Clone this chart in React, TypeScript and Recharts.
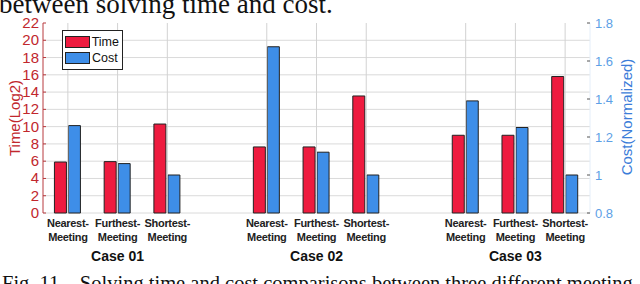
import React from 'react';
import { BarChart, Bar, XAxis, YAxis, CartesianGrid, ReferenceLine, Legend } from 'recharts';

const caseLabels = ['Case 01', 'Case 02', 'Case 03'];
const methodIds = ['n', 'f', 's'];
const methodLine1 = ['Nearest-', 'Furthest-', 'Shortest-'];
const methodLine2 = ['Meeting', 'Meeting', 'Meeting'];
const timeCase1 = [5.9, 5.95, 10.3];
const timeCase2 = [7.65, 7.65, 13.55];
const timeCase3 = [9.0, 9.0, 15.8];
const costCase1 = [1.26, 1.06, 1.0];
const costCase2 = [1.675, 1.12, 1.0];
const costCase3 = [1.39, 1.25, 1.0];
const timeTicks = [0, 2, 4, 6, 8, 10, 12, 14, 16, 18, 20, 22];
const costTicks = [0.8, 1, 1.2, 1.4, 1.6, 1.8];

const timeByCase = [timeCase1, timeCase2, timeCase3];
const costByCase = [costCase1, costCase2, costCase3];

type Row = { id: string; l1: string; l2: string; caseLabel: string; time: number | null; cost: number | null; gap: boolean };
const data: Row[] = [];
caseLabels.forEach((c, ci) => {
  methodIds.forEach((m, mi) => {
    data.push({
      id: `c${ci + 1}${m}`,
      l1: methodLine1[mi],
      l2: methodLine2[mi],
      caseLabel: mi === 1 ? c : '',
      time: timeByCase[ci][mi],
      cost: costByCase[ci][mi],
      gap: false,
    });
  });
  if (ci < caseLabels.length - 1) {
    data.push({ id: `gap${ci + 1}`, l1: '', l2: '', caseLabel: '', time: null, cost: null, gap: true });
  }
});
const realIds = data.filter((d) => !d.gap).map((d) => d.id);
const rowById: Record<string, Row> = {};
data.forEach((d) => (rowById[d.id] = d));

const RED = '#EE1B3F';
const BLUE = '#3E8EE8';
const AXIS_RED = '#B83A3E';
const TEXT_RED = '#C1272D';
const TEXT_BLUE = '#5DA0E6';
const SANS = '"Liberation Sans", Arial, sans-serif';
const NARROW = '"Liberation Sans Narrow", "Arial Narrow", "Liberation Sans", sans-serif';
const SERIF = '"Liberation Serif", "Times New Roman", serif';

const BottomTick = (props: any) => {
  const { x, y, payload } = props;
  const row = rowById[payload.value];
  if (!row || row.gap) return <g />;
  return (
    <g>
      <text x={x} y={y + 14} textAnchor="middle" fontFamily={NARROW} fontWeight="bold" fontSize={11} letterSpacing={-0.3} fill="#222">{row.l1}</text>
      <text x={x} y={y + 28} textAnchor="middle" fontFamily={NARROW} fontWeight="bold" fontSize={11} letterSpacing={-0.3} fill="#222">{row.l2}</text>
      {row.caseLabel ? (
        <text x={x} y={y + 48} textAnchor="middle" fontFamily={SANS} fontWeight="bold" fontSize={14} fill="#111">{row.caseLabel}</text>
      ) : null}
    </g>
  );
};

const TopTick = (props: any) => {
  const { x, y, payload } = props;
  const row = rowById[payload.value];
  if (!row || row.gap) return <g />;
  return <line x1={x} x2={x} y1={y} y2={y + 4} stroke="#333" strokeWidth={1} />;
};

const LeftTick = (props: any) => {
  const { x, y, payload } = props;
  return (
    <g>
      <line x1={x} x2={x + 3} y1={y} y2={y} stroke={AXIS_RED} strokeWidth={1} />
      <text x={x - 4} y={y} dy={5} textAnchor="end" fontFamily={SANS} fontSize={15} fill={TEXT_RED}>{payload.value}</text>
    </g>
  );
};

const RightTick = (props: any) => {
  const { x, y, payload } = props;
  return (
    <g>
      <line x1={x - 3} x2={x} y1={y} y2={y} stroke="#555" strokeWidth={1} />
      <text x={x + 5} y={y} dy={4.5} textAnchor="start" fontFamily={SANS} fontSize={13} fill={TEXT_BLUE}>{String(payload.value)}</text>
    </g>
  );
};

const LegendBox = () => (
  <div style={{ border: '1px solid #222', background: '#fff', padding: '3px 3px 3px 2px', fontFamily: SANS, fontSize: 12.5, color: '#111', lineHeight: '15px', width: 54 }}>
    {[
      { name: 'Time', color: RED },
      { name: 'Cost', color: BLUE },
    ].map((it) => (
      <div key={it.name} style={{ display: 'flex', alignItems: 'center', height: 16 }}>
        <span style={{ display: 'inline-block', width: 23, height: 10, background: it.color, border: '1px solid #222', marginRight: 2 }} />
        <span>{it.name}</span>
      </div>
    ))}
  </div>
);

export default function App() {
  return (
    <div style={{ position: 'absolute', left: 0, top: 0, width: 640, height: 284, overflow: 'hidden', background: '#fff' }}>
      <BarChart
        width={640}
        height={284}
        data={data}
        margin={{ top: 23, right: 0, left: 0, bottom: 0 }}
        barCategoryGap="23%"
        barGap={2}
      >
        <CartesianGrid yAxisId="time" xAxisId="main" vertical={false} stroke="#dadada" horizontalValues={timeTicks.slice(0, -1)} />
        {realIds.map((id) => (
          <ReferenceLine key={id} x={id} xAxisId="main" yAxisId="time" stroke="#d2d2d2" strokeWidth={1} />
        ))}
        <XAxis
          xAxisId="main"
          dataKey="id"
          type="category"
          height={71}
          interval={0}
          axisLine={false}
          tickLine={false}
          tickSize={0}
          tickMargin={0}
          tick={<BottomTick />}
        />
        <XAxis
          xAxisId="top"
          dataKey="id"
          type="category"
          orientation="top"
          height={0}
          interval={0}
          axisLine={{ stroke: '#444', strokeWidth: 1 }}
          tickLine={false}
          tickSize={0}
          tickMargin={0}
          tick={<TopTick />}
        />
        <YAxis
          yAxisId="time"
          orientation="left"
          width={43}
          domain={[0, 22]}
          ticks={timeTicks}
          interval={0}
          axisLine={{ stroke: AXIS_RED, strokeWidth: 1 }}
          tickLine={false}
          tickSize={0}
          tickMargin={0}
          tick={<LeftTick />}
        />
        <YAxis
          yAxisId="cost"
          orientation="right"
          width={50}
          domain={[0.8, 1.8]}
          ticks={costTicks}
          interval={0}
          axisLine={{ stroke: '#e4eef9', strokeWidth: 1 }}
          tickLine={false}
          tickSize={0}
          tickMargin={0}
          tick={<RightTick />}
        />
        <Legend
          layout="horizontal"
          verticalAlign="middle"
          align="center"
          wrapperStyle={{ position: 'absolute', left: 62, top: 30, width: 'auto', height: 'auto' }}
          content={<LegendBox />}
        />
        <Bar dataKey="time" name="Time" xAxisId="main" yAxisId="time" fill={RED} stroke="#222" strokeWidth={1} isAnimationActive={false} />
        <Bar dataKey="cost" name="Cost" xAxisId="main" yAxisId="cost" fill={BLUE} stroke="#222" strokeWidth={1} isAnimationActive={false} />
      </BarChart>
      <svg width={640} height={284} style={{ position: 'absolute', left: 0, top: 0, pointerEvents: 'none' }}>
        <text x={-1} y={13} fontFamily={SERIF} fontSize={27} fill="#111">between solving time and cost.</text>
        <text x={2} y={290} fontFamily={SERIF} fontSize={20.5} fill="#111" xmlSpace="preserve">Fig. 11.   Solving time and cost comparisons between three different meeting</text>
        <text transform="translate(20,118) rotate(-90)" textAnchor="middle" fontFamily={SANS} fontSize={15} fill={TEXT_RED}>Time(Log2)</text>
        <text transform="translate(632,117) rotate(-90)" textAnchor="middle" fontFamily={SANS} fontSize={15} fill="#3C7DD9">Cost(Normalized)</text>
      </svg>
    </div>
  );
}
